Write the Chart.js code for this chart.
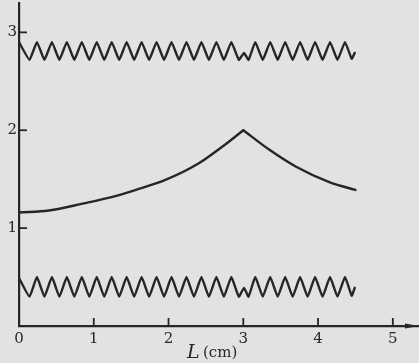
<!DOCTYPE html>
<html>
<head>
<meta charset="utf-8">
<script src="https://cdn.jsdelivr.net/npm/chart.js@4/dist/chart.umd.min.js"></script>
<style>
	body { margin: 0; background: #e2e2e0; }
	canvas { display: block; }
</style>
</head>
<body>
<canvas id="Figure" width="419" height="363"></canvas>
<script>
// values
const wave_x = [0, 0.14, 0.24, 0.34, 0.44, 0.54, 0.64, 0.74, 0.84, 0.94, 1.04, 1.14, 1.24, 1.34, 1.44, 1.54,
	1.64, 1.74, 1.84, 1.94, 2.04, 2.14, 2.24, 2.34, 2.44, 2.54, 2.64, 2.74, 2.84, 2.94, 3.01, 3.07,
	3.16, 3.26, 3.36, 3.46, 3.56, 3.66, 3.76, 3.86, 3.96, 4.06, 4.16, 4.26, 4.36, 4.45, 4.49];
const upper_wave_y = [2.9, 2.72, 2.9, 2.72, 2.9, 2.72, 2.9, 2.72, 2.9, 2.72, 2.9, 2.72, 2.9, 2.72, 2.9, 2.72,
	2.9, 2.72, 2.9, 2.72, 2.9, 2.72, 2.9, 2.72, 2.9, 2.72, 2.9, 2.72, 2.9, 2.72, 2.79, 2.72,
	2.9, 2.72, 2.9, 2.72, 2.9, 2.72, 2.9, 2.72, 2.9, 2.72, 2.9, 2.72, 2.9, 2.73, 2.79];
const lower_wave_y = [0.49, 0.3, 0.5, 0.3, 0.5, 0.3, 0.5, 0.3, 0.5, 0.3, 0.5, 0.3, 0.5, 0.3, 0.5, 0.3,
	0.5, 0.3, 0.5, 0.3, 0.5, 0.3, 0.5, 0.3, 0.5, 0.3, 0.5, 0.3, 0.5, 0.3, 0.39, 0.3,
	0.5, 0.3, 0.5, 0.3, 0.5, 0.3, 0.5, 0.3, 0.5, 0.3, 0.5, 0.3, 0.5, 0.31, 0.39];
const rise_x = [0, 0.4, 0.85, 1.3, 1.6, 1.95, 2.4, 2.75, 3.0];
const rise_y = [1.16, 1.18, 1.25, 1.33, 1.4, 1.49, 1.66, 1.85, 2.0];
const fall_x = [3.0, 3.35, 3.7, 4.15, 4.5];
const fall_y = [2.0, 1.8, 1.63, 1.47, 1.39];
const x_ticks = [0, 1, 2, 3, 4, 5];
const y_ticks = [1, 2, 3];

const ink = "#262626";
const serif = "'DejaVu Serif', serif";

function to_points(xs, ys) {
	return xs.map((x, i) => ({ x: x, y: ys[i] }));
}

function curve(data, smooth) {
	return {
		data: data,
		borderColor: ink,
		borderWidth: 2.4,
		pointRadius: 0,
		tension: smooth ? 0 : 0.12,
		cubicInterpolationMode: smooth ? "monotone" : "default",
		borderJoinStyle: "round",
		borderCapStyle: "round",
	};
}

const axis_extras = {
	id: "axisExtras",
	beforeDraw(chart) {
		const ctx = chart.ctx;
		ctx.save();
		ctx.fillStyle = "#e2e2e0";
		ctx.fillRect(0, 0, chart.width, chart.height);
		ctx.restore();
	},
	afterDraw(chart) {
		const ctx = chart.ctx;
		const xs = chart.scales.x;
		const ys = chart.scales.y;
		const area = chart.chartArea;
		ctx.save();
		ctx.strokeStyle = ink;
		ctx.fillStyle = ink;
		ctx.lineWidth = 1.8;
		// x tick marks stand up from the axis
		x_ticks.slice(1).forEach((v) => {
			const px = xs.getPixelForValue(v);
			ctx.beginPath();
			ctx.moveTo(px, area.bottom - 8);
			ctx.lineTo(px, area.bottom + 1);
			ctx.stroke();
		});
		// y tick marks point into the plot
		y_ticks.forEach((v) => {
			const py = ys.getPixelForValue(v);
			ctx.beginPath();
			ctx.moveTo(area.left, py);
			ctx.lineTo(area.left + 8, py);
			ctx.stroke();
		});
		// arrow head at the right end of the x axis
		ctx.beginPath();
		ctx.moveTo(area.right, area.bottom);
		ctx.lineTo(area.right - 14, area.bottom - 2.5);
		ctx.lineTo(area.right - 14, area.bottom + 2.5);
		ctx.closePath();
		ctx.fill();
		// axis title: italic L, roman (cm)
		ctx.textBaseline = "alphabetic";
		ctx.font = "italic 19px " + serif;
		ctx.fillText("L", 187, 358);
		ctx.font = "15px " + serif;
		ctx.fillText("(cm)", 203, 357);
		ctx.restore();
	},
};

new Chart(document.getElementById("Figure").getContext("2d"), {
	type: "line",
	data: {
		datasets: [
			curve(to_points(wave_x, upper_wave_y), false),
			curve(to_points(wave_x, lower_wave_y), false),
			curve(to_points(rise_x, rise_y), true),
			curve(to_points(fall_x, fall_y), true),
		],
	},
	options: {
		responsive: false,
		devicePixelRatio: 1,
		animation: false,
		layout: { padding: { top: 3, right: 0, left: 0, bottom: 0 } },
		plugins: { legend: { display: false }, tooltip: { enabled: false } },
		scales: {
			x: {
				type: "linear",
				min: 0,
				max: 5.35,
				grid: { display: false, drawTicks: false },
				border: { display: true, color: ink, width: 2.2 },
				ticks: {
					stepSize: 1,
					includeBounds: false,
					padding: 4,
					color: ink,
					font: { family: serif, size: 15 },
					maxRotation: 0,
				},
				afterFit(scale) {
					scale.height = 37;
				},
			},
			y: {
				type: "linear",
				min: 0,
				max: 3.3,
				grid: { display: false, drawTicks: false },
				border: { display: true, color: ink, width: 2.2 },
				ticks: {
					stepSize: 1,
					includeBounds: false,
					padding: 2,
					color: ink,
					font: { family: serif, size: 15 },
					callback: (v) => (y_ticks.includes(v) ? String(v) : ""),
				},
				afterFit(scale) {
					scale.width = 19;
					scale.paddingTop = 0;
					scale.paddingBottom = 0;
				},
			},
		},
	},
	plugins: [axis_extras],
});
</script>
</body>
</html>
